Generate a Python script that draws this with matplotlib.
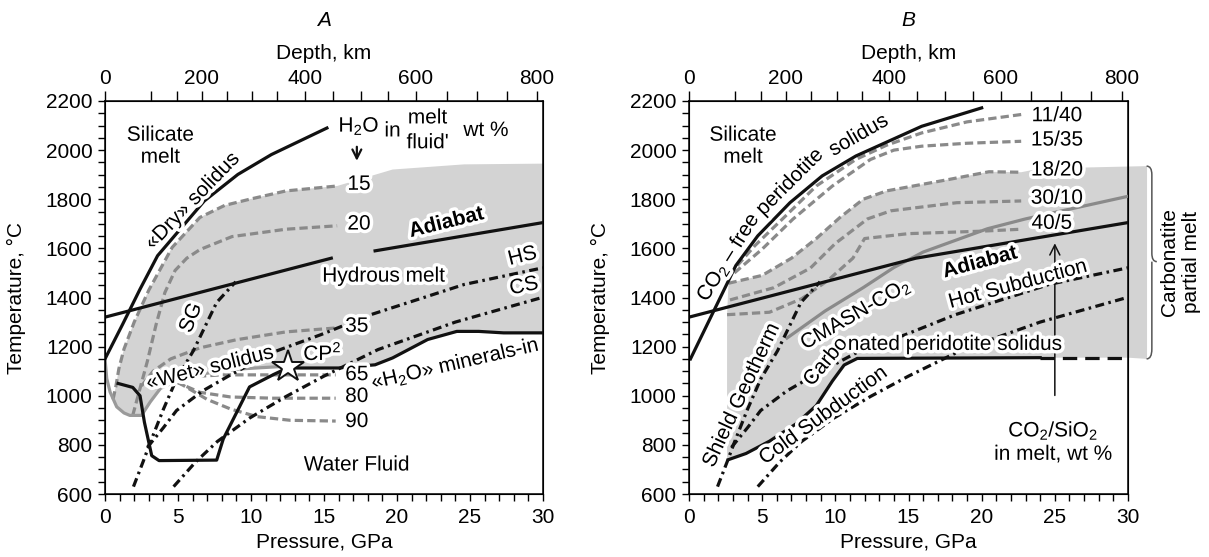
import matplotlib
matplotlib.use("Agg")
import matplotlib.pyplot as plt
import matplotlib.patheffects as pe
from matplotlib.path import Path
from matplotlib.patches import PathPatch
import numpy as np

plt.rcParams['font.family'] = 'Liberation Sans'
plt.rcParams['mathtext.fontset'] = 'custom'
plt.rcParams['mathtext.rm'] = 'Liberation Sans'
plt.rcParams['mathtext.it'] = 'Liberation Sans:italic'
plt.rcParams['mathtext.bf'] = 'Liberation Sans:bold'

FS = 15
BLACK = '#111111'
GREY_DASH = '#8a8a8a'
GREY_LINE = '#9a9a9a'
FILL = '#d3d3d3'

# depth scale for the top axis (km -> GPa)
depth_km = [0, 100, 150, 200, 250, 300, 350, 400, 450, 500, 550, 600, 650, 700, 750, 800]
depth_gpa = [0, 3.15, 4.91, 6.62, 8.33, 10.08, 11.8, 13.7, 15.6, 17.5, 19.4, 21.3, 23.4, 25.45, 27.5, 29.6]

# ---- curves shared by both panels ----
adiabat_p = [0, 15.5, 18.5, 30]
adiabat_t = [1320, 1560, 1590, 1705]

sg_p = [1.95, 2.6, 3.1, 4.0, 4.9, 6.05, 7.65, 8.95]
sg_t = [630, 730, 810, 945, 1068, 1183, 1380, 1464]

hs_p = [2.9, 4.0, 4.9, 6.7, 8.6, 11.5, 14.8, 18.2, 24.6, 30]
hs_t = [790, 870, 940, 1020, 1085, 1177, 1249, 1330, 1453, 1521]

cs_p = [4.7, 6.2, 7.7, 9.9, 12.4, 15.0, 18.7, 24.0, 30]
cs_t = [630, 730, 814, 909, 997, 1080, 1188, 1300, 1401]

# ---- panel A ----
dry_p = [0, 1.2, 2.4, 3.6, 6.8, 9.1, 11.4, 15.2]
dry_t = [1150, 1290, 1434, 1570, 1793, 1901, 1982, 2090]

wet_p = [0, 0.12, 0.35, 0.8, 1.3, 1.7, 2.5, 3.1, 3.8, 4.7, 6.5, 9.2, 11.8, 12.5]
wet_t = [1150, 1070, 1015, 955, 930, 920, 920, 975, 1030, 1055, 1088, 1109, 1118, 1120]

minerals_p = [0.9, 1.9, 2.4, 2.7, 3.2, 3.7, 7.65, 8.1, 9.9, 11.6, 12.5, 16.0, 18.5, 19.7, 22.1, 24.1, 25.6, 27.3, 30]
minerals_t = [1050, 1034, 1000, 892, 756, 736, 738, 824, 1036, 1088, 1113, 1113, 1126, 1154, 1229, 1262, 1262, 1256, 1256]

w15_p = [0.55, 0.75, 0.95, 1.3, 2.0, 3.0, 4.6, 6.5, 8.2, 9.9, 12.4, 15.9]
w15_t = [985, 1040, 1110, 1190, 1300, 1430, 1604, 1726, 1775, 1800, 1834, 1854]
w20_p = [1.9, 2.4, 2.9, 3.5, 4.1, 4.8, 5.6, 6.5, 8.7, 12.4, 15.9]
w20_t = [920, 1030, 1140, 1290, 1420, 1510, 1560, 1595, 1648, 1678, 1692]
w35_p = [2.5, 3.3, 4.5, 6.5, 9.0, 12.4, 15.8]
w35_t = [1040, 1100, 1150, 1195, 1228, 1260, 1276]
w65_p = [4.7, 6.0, 8.0, 15.8]
w65_t = [1058, 1078, 1085, 1085]
w80_p = [4.8, 6.5, 8.6, 11.5, 15.8]
w80_t = [1058, 1014, 995, 990, 990]
w90_p = [5.0, 7.0, 8.6, 10.4, 12.7, 15.8]
w90_t = [1055, 985, 946, 915, 900, 897]

hyd_top_p = [19.7, 24.6, 30]
hyd_top_t = [1921, 1942, 1945]

cp2_p = [12.5]
cp2_t = [1118]

# ---- panel B ----
co2free_p = [0.1, 3.2, 4.7, 6.9, 9.1, 11.4, 15.9, 20.0]
co2free_t = [1150, 1530, 1651, 1786, 1895, 1976, 2097, 2172]

c1140_p = [3.3, 4.5, 6.6, 8.7, 11.4, 13.5, 15.9, 19.0, 22.7]
c1140_t = [1530, 1611, 1732, 1854, 1962, 2020, 2070, 2115, 2145]
c1535_p = [3.1, 5.0, 7.1, 9.8, 12.4, 14.0, 15.9, 19.0, 22.7]
c1535_t = [1500, 1597, 1719, 1854, 1962, 2000, 2016, 2028, 2036]
c1820_p = [2.7, 5.0, 7.0, 8.7, 10.3, 11.9, 13.5, 17.8, 20.5, 22.7]
c1820_t = [1458, 1490, 1560, 1640, 1725, 1800, 1834, 1881, 1912, 1910]
c3010_p = [2.8, 5.8, 8.3, 10.0, 12.2, 13.8, 18.3, 22.7]
c3010_t = [1390, 1440, 1520, 1620, 1720, 1753, 1786, 1793]
c405_p = [2.6, 5.5, 7.7, 9.5, 11.2, 12.0, 15.0, 20.0, 22.7]
c405_t = [1330, 1340, 1395, 1470, 1560, 1640, 1660, 1670, 1678]

cmasn_p = [6.7, 9.3, 11.9, 14.0, 16.0, 20.4, 23.0, 30]
cmasn_t = [1235, 1345, 1440, 1522, 1585, 1680, 1720, 1812]

carb_p = [2.7, 3.9, 5.5, 7.3, 8.7, 9.8, 10.6, 11.5, 24.0]
carb_t = [740, 765, 815, 885, 960, 1060, 1125, 1152, 1155]
carb_ext_p = [24.0, 30]
carb_ext_t = [1155, 1155]

carb_field_right_p = [31.3, 31.3]
carb_field_right_t = [1935, 1150]


def halo(w=5):
    return [pe.withStroke(linewidth=w, foreground='white')]


def label(ax, p, t, s, rot=0, ha='center', **kw):
    ax.text(p, t, s, rotation=rot, rotation_mode='anchor', ha=ha, va='center',
            fontsize=FS, path_effects=halo(), zorder=8, **kw)


def solid(ax, p, t, color=BLACK, **kw):
    ax.plot(p, t, color=color, lw=2.3, solid_joinstyle='round', zorder=4, **kw)


def dashed(ax, p, t):
    ax.plot(p, t, color=GREY_DASH, lw=2.3, dashes=(2.6, 1.3), zorder=3)


def dashdot(ax, p, t):
    ax.plot(p, t, color=BLACK, lw=2.3, dashes=(2.8, 1.4, 0.8, 1.4), zorder=4)


def setup(ax, title):
    ax.set_xlim(0, 30)
    ax.set_ylim(600, 2200)
    ax.set_xticks(range(0, 31, 5))
    ax.set_xticks(range(0, 31), minor=True)
    ax.set_yticks(range(600, 2201, 200))
    ax.set_yticks(range(600, 2201, 50), minor=True)
    ax.tick_params(which='both', direction='out', length=5, width=1, labelsize=FS)
    ax.tick_params(axis='x', pad=5)
    ax.tick_params(axis='y', pad=4)
    for s in ax.spines.values():
        s.set_linewidth(1.1)
    ax.set_xlabel('Pressure, GPa', fontsize=FS)
    ax.set_ylabel('Temperature, °C', fontsize=FS)
    ax.xaxis.set_label_coords(0.5, -0.098)
    ax.yaxis.set_label_coords(-0.18, 0.5)
    top = ax.twiny()
    top.set_xlim(0, 30)
    top.set_xticks(depth_gpa)
    top.set_xticklabels([str(d) if d % 200 == 0 else '' for d in depth_km])
    top.tick_params(direction='out', length=7, width=1, labelsize=FS, pad=2)
    top.set_xlabel('Depth, km', fontsize=FS)
    top.xaxis.set_label_coords(0.5, 1.108)
    ax.text(0.5, 1.205, title, transform=ax.transAxes, ha='center', va='center',
            fontsize=FS, style='italic')


fig = plt.figure(figsize=(12.09, 5.57), dpi=100)
axA = fig.add_axes([105 / 1209, 1 - 494 / 557, 438 / 1209, 393 / 557])
axB = fig.add_axes([689 / 1209, 1 - 494 / 557, 439 / 1209, 393 / 557])

# ================= panel A =================
ax = axA
poly_p = np.concatenate([w15_p, hyd_top_p, minerals_p[::-1][:9], wet_p[::-1]])
poly_t = np.concatenate([w15_t, hyd_top_t, minerals_t[::-1][:9], wet_t[::-1]])
ax.fill(poly_p[:-2], poly_t[:-2], color=FILL, lw=0, zorder=1)

for p, t in [(w15_p, w15_t), (w20_p, w20_t), (w35_p, w35_t),
             (w65_p, w65_t), (w80_p, w80_t), (w90_p, w90_t)]:
    dashed(ax, p, t)

solid(ax, wet_p, wet_t, color=GREY_LINE)
solid(ax, dry_p, dry_t)
solid(ax, adiabat_p[:2], adiabat_t[:2])
solid(ax, adiabat_p[2:], adiabat_t[2:])
solid(ax, minerals_p, minerals_t)
dashdot(ax, sg_p, sg_t)
dashdot(ax, hs_p, hs_t)
dashdot(ax, cs_p, cs_t)
ax.plot(cp2_p, cp2_t, marker='*', ms=24, mfc='white', mec=BLACK, mew=1.4, zorder=9)

label(ax, 3.8, 2016, 'Silicate\nmelt', multialignment='center')
label(ax, 6.0, 1793, '«Dry» solidus', rot=46)
label(ax, 17.4, 2097, 'H$_2$O')
label(ax, 19.7, 2078, 'in')
label(ax, 22.1, 2131, 'melt')
label(ax, 22.1, 2030, "fluid'")
label(ax, 26.1, 2080, 'wt %')
ax.annotate('', xy=(17.25, 1945), xytext=(17.25, 2025),
            arrowprops=dict(arrowstyle='->', lw=1.6, color=BLACK, mutation_scale=16), zorder=8)
label(ax, 17.4, 1861, '15')
label(ax, 17.4, 1699, '20')
label(ax, 17.25, 1283, '35')
label(ax, 17.25, 1086, '65')
label(ax, 17.25, 997, '80')
label(ax, 17.25, 895, '90')
label(ax, 23.4, 1705, 'Adiabat', rot=14, fontweight='bold')
label(ax, 19.1, 1487, 'Hydrous melt')
label(ax, 28.6, 1568, 'HS', rot=14)
label(ax, 28.7, 1446, 'CS', rot=12)
label(ax, 5.9, 1317, 'SG', rot=68)
label(ax, 7.2, 1113, '«Wet» solidus', rot=14)
label(ax, 14.9, 1174, 'CP$^2$')
label(ax, 24.0, 1130, '«H$_2$O» minerals-in', rot=13)
label(ax, 17.25, 718, 'Water Fluid')
setup(ax, 'A')

# ================= panel B =================
ax = axB
field_p = np.concatenate([[2.6], c1820_p, [24.0], carb_field_right_p, carb_ext_p[::-1], carb_p[::-1], [2.6]])
field_t = np.concatenate([[1330], c1820_t, [1925], carb_field_right_t, carb_ext_t[::-1], carb_t[::-1], [740]])
ax.fill(field_p, field_t, color=FILL, lw=0, zorder=1, clip_on=False)

for p, t in [(c1140_p, c1140_t), (c1535_p, c1535_t), (c1820_p, c1820_t),
             (c3010_p, c3010_t), (c405_p, c405_t)]:
    dashed(ax, p, t)

solid(ax, cmasn_p, cmasn_t, color=GREY_DASH)
solid(ax, co2free_p, co2free_t)
solid(ax, adiabat_p, adiabat_t)
solid(ax, carb_p, carb_t)
ax.plot(carb_ext_p, carb_ext_t, color=BLACK, lw=2.3, dashes=(4.5, 2.5), zorder=4)
dashdot(ax, sg_p, sg_t)
dashdot(ax, hs_p, hs_t)
dashdot(ax, cs_p, cs_t)

ax.annotate('', xy=(25, 1632), xytext=(25, 990),
            arrowprops=dict(arrowstyle='->', lw=1.1, color=BLACK, mutation_scale=18), zorder=5)

# curly brace beside the carbonatite field
bx0, bx1, bx2 = 31.27, 31.63, 31.97
verts = [(bx0, 1935), (bx1, 1935), (bx1, 1900), (bx1, 1580), (bx1, 1546), (bx2, 1546),
         (bx1, 1546), (bx1, 1512), (bx1, 1190), (bx1, 1150), (bx0, 1150)]
codes = [Path.MOVETO, Path.CURVE3, Path.CURVE3, Path.LINETO, Path.CURVE3, Path.CURVE3,
         Path.MOVETO, Path.CURVE3, Path.LINETO, Path.CURVE3, Path.CURVE3]
ax.add_patch(PathPatch(Path(verts, codes), fc='none', ec='#555555', lw=1.1, clip_on=False))
ax.text(33.6, 1546, 'Carbonatite\npartial melt', rotation=90, ha='center', va='center',
        fontsize=FS, multialignment='center')

label(ax, 3.7, 2016, 'Silicate\nmelt', multialignment='center')
label(ax, 2.7, 1565, 'CO$_2$ – free', rot=58)
label(ax, 6.9, 1870, 'peridotite', rot=45)
label(ax, 11.6, 2060, 'solidus', rot=30)
label(ax, 25.15, 2140, '11/40')
label(ax, 25.15, 2041, '15/35')
label(ax, 25.15, 1919, '18/20')
label(ax, 25.15, 1804, '30/10')
label(ax, 24.8, 1702, '40/5')
label(ax, 19.9, 1543, 'Adiabat', rot=15, fontweight='bold')
label(ax, 22.5, 1454, 'Hot Subduction', rot=15)
label(ax, 11.4, 1331, 'CMASN-CO$_2$', rot=30)
label(ax, 9.35, 1138, 'Carbo', rot=50)
label(ax, 10.85, 1209, 'nated peridotite solidus', ha='left')
label(ax, 3.6, 1003, 'Shield Geotherm', rot=65)
label(ax, 9.2, 920, 'Cold Subduction', rot=36)
label(ax, 24.9, 813, 'CO$_2$/SiO$_2$\nin melt, wt %', multialignment='center')
setup(ax, 'B')

fig.savefig('out.png', dpi=100)
